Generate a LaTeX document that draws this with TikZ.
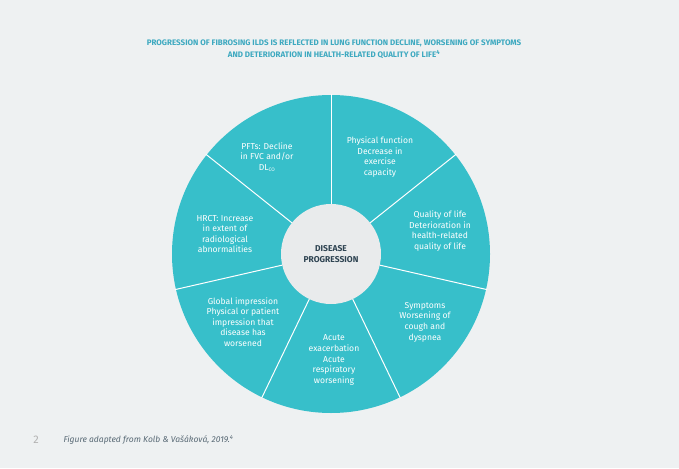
\documentclass[tikz,border=0pt]{standalone}
\usepackage{fontspec}
\usetikzlibrary{calc}
\setmainfont{Fira Sans}
\definecolor{bg}{HTML}{EEF1F2}
\definecolor{seg}{HTML}{37BFCA}
\definecolor{ttl}{HTML}{3DA9C0}
\definecolor{dark}{HTML}{2F4452}
\begin{document}
\begin{tikzpicture}[x=1pt,y=-1pt,
  lab/.style={text=white,align=center,font=\fontsize{8.6}{10.6}\selectfont},
  div/.style={white,line width=1pt}]
\fill[bg] (0,0) rectangle (679,468);
\useasboundingbox (0,0) rectangle (679,468);
\coordinate (c) at (331,254);
\fill[seg] (c) circle (159);
\foreach \a in {90,38.57,-12.86,-64.29,-115.71,-167.14,141.43}
  \draw[div] ($(c)+(\a:50 and -50)$) -- ($(c)+(\a:160 and -160)$);
\fill[bg!95!gray] (c) circle (50);
\node[font=\bfseries\fontsize{8.5}{11}\selectfont,text=dark,align=center] (dp) at (c) {DISEASE\\PROGRESSION};
\node[lab] (n1) at (267,157) {PFTs: Decline\\in FVC and/or\\DL\textsubscript{\tiny CO}};
\node[lab] (n2) at (380,157) {Physical function\\Decrease in\\exercise\\capacity};
\node[lab] (n3) at (440,231) {Quality of life\\Deterioration in\\health-related\\quality of life};
\node[lab] (n4) at (425,322) {Symptoms\\Worsening of\\cough and\\dyspnea};
\node[lab] (n5) at (334,360) {Acute\\exacerbation\\Acute\\respiratory\\worsening};
\node[lab] (n6) at (243,322) {Global impression\\Physical or patient\\impression that\\disease has\\worsened};
\node[lab] (n7) at (225,234) {HRCT: Increase\\in extent of\\radiological\\abnormalities};
\node[text=ttl,font=\bfseries\fontsize{8}{12.5}\selectfont,align=center] (t) at (334,49)
 {PROGRESSION OF FIBROSING ILDS IS REFLECTED IN LUNG FUNCTION DECLINE, WORSENING OF SYMPTOMS\\AND DETERIORATION IN HEALTH-RELATED QUALITY OF LIFE\textsuperscript{4}};
\node[text=gray!60,font=\fontsize{11}{12}\selectfont] (pg) at (36,440) {2};
\node[text=dark!80,font=\itshape\fontsize{8.5}{10}\selectfont,anchor=west] (f) at (60,440) {Figure adapted from Kolb \& Vašáková, 2019.\textsuperscript{4}};
\end{tikzpicture}
\end{document}
